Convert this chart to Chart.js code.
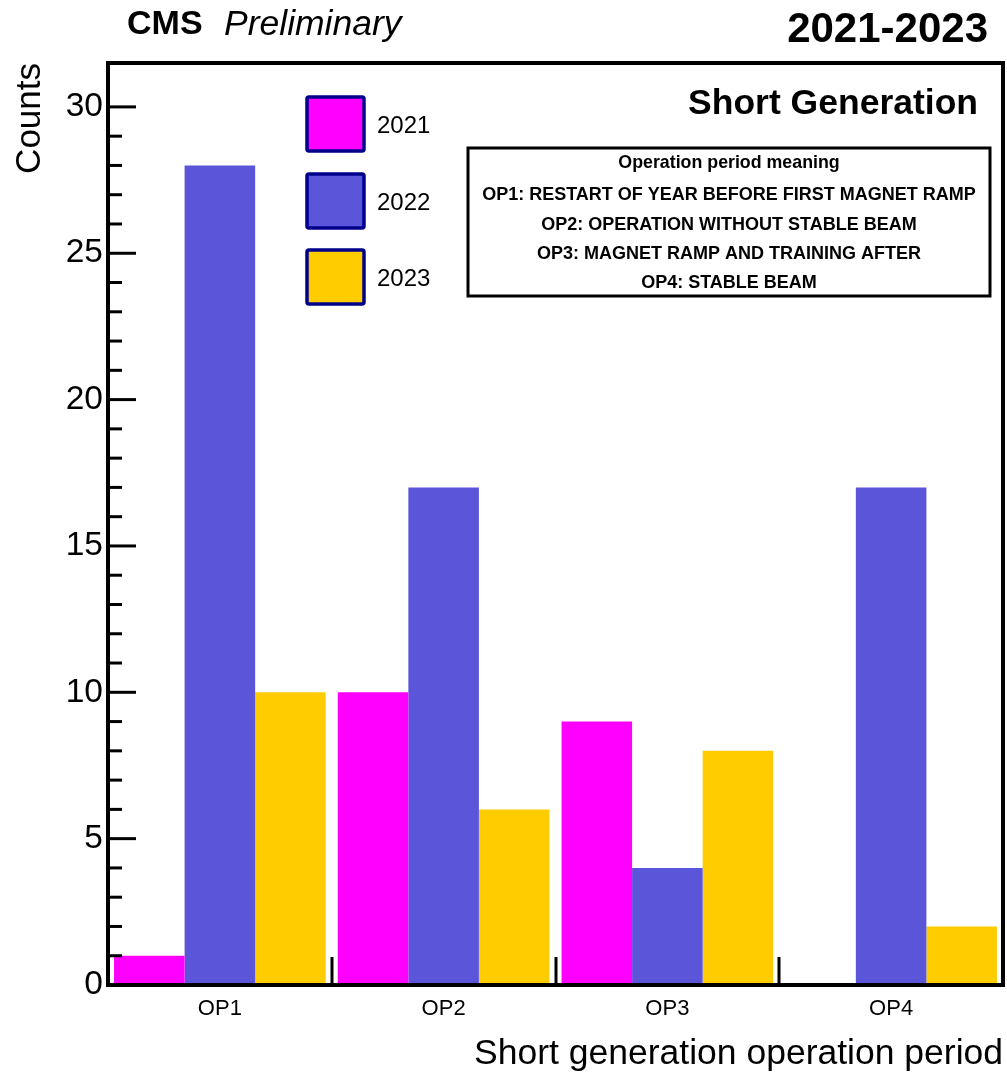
<!DOCTYPE html>
<html>
<head>
<meta charset="utf-8">
<script src="https://cdn.jsdelivr.net/npm/chart.js@4.4.1/dist/chart.umd.min.js"></script>
<style>
  html, body { margin: 0; padding: 0; background: #fff; }
  #wrap { width: 1007px; height: 1074px; }
</style>
</head>
<body>
<div id="wrap"><canvas id="chart" width="1007" height="1074"></canvas></div>
<script>
// ---------------- data ----------------
const periods = ["OP1", "OP2", "OP3", "OP4"];
const years = ["2021", "2022", "2023"];
const counts2021 = [1, 10, 9, 0];
const counts2022 = [28, 17, 4, 17];
const counts2023 = [10, 6, 8, 2];
const yearColors = ["#ff00ff", "#5b56d9", "#ffcc00"];

const noteTitle = "Operation period meaning";
const noteLines = [
    "OP1: RESTART OF YEAR BEFORE FIRST MAGNET RAMP",
    "OP2: OPERATION WITHOUT STABLE BEAM",
    "OP3: MAGNET RAMP AND TRAINING AFTER",
    "OP4: STABLE BEAM"
];

const FONT = "'Liberation Sans', Arial, Helvetica, sans-serif";

// ======================================
// FRAME, TICKS, LEGEND, LABELS
// ======================================

function strokeLine(ctx, x1, y1, x2, y2){
    ctx.beginPath();
    ctx.moveTo(x1, y1);
    ctx.lineTo(x2, y2);
    ctx.stroke();
}

const decorations = {

    id: "decorations",

    afterDatasetsDraw(chart){

        const {ctx, chartArea: a, scales: {x, y}} = chart;

        ctx.save();
        ctx.strokeStyle = "#000";
        ctx.lineWidth = 3;

        // y ticks, major every 5, minor every 1
        y.ticks.forEach(t => {
            if (!Number.isInteger(t.value) || t.value === 0) return;
            const py = y.getPixelForValue(t.value);
            const len = t.value % 5 === 0 ? 28 : 14;
            strokeLine(ctx, a.left, py, a.left + len, py);
        });

        // x ticks at category boundaries
        for (let i = 0; i < periods.length - 1; i++) {
            const px = Math.round((x.getPixelForValue(i) + x.getPixelForValue(i + 1)) / 2);
            strokeLine(ctx, px, a.bottom, px, a.bottom - 28);
        }

        ctx.lineWidth = 4;
        ctx.strokeRect(a.left, a.top, a.right - a.left, a.bottom - a.top);

        // legend
        const legendTops = [97, 174, 250];
        chart.data.datasets.forEach((ds, i) => {
            const top = legendTops[i];
            ctx.fillStyle = ds.backgroundColor;
            ctx.strokeStyle = "#00008b";
            ctx.lineWidth = 3.5;
            ctx.beginPath();
            ctx.roundRect(307, top, 57, 54, 2);
            ctx.fill();
            ctx.stroke();
            ctx.fillStyle = "#000";
            ctx.font = "24px " + FONT;
            ctx.textAlign = "left";
            ctx.textBaseline = "middle";
            ctx.fillText(ds.label, 377, top + 29);
        });

        // header texts
        ctx.fillStyle = "#000";
        ctx.textBaseline = "middle";
        ctx.textAlign = "left";
        ctx.font = "bold 34px " + FONT;
        ctx.fillText("CMS", 127, 25);
        ctx.font = "italic 35.5px " + FONT;
        ctx.fillText("Preliminary", 224, 25);

        ctx.textAlign = "right";
        ctx.font = "bold 42px " + FONT;
        ctx.fillText("2021-2023", 988, 30);

        ctx.font = "bold 35.5px " + FONT;
        ctx.fillText("Short Generation", 978, 104);

        // info box
        ctx.lineWidth = 3;
        ctx.strokeStyle = "#000";
        ctx.strokeRect(468, 148, 522, 148);
        ctx.textAlign = "center";
        ctx.font = "bold 17.8px " + FONT;
        ctx.fillText(noteTitle, 729, 163);
        const lineY = [195, 225, 254, 283];
        ctx.font = "bold 18px " + FONT;
        noteLines.forEach((s, i) => ctx.fillText(s, 729, lineY[i]));

        ctx.restore();
    }
};

// ======================================
// CHART
// ======================================

new Chart(document.getElementById("chart"), {

    type: "bar",

    data: {
        labels: periods,
        datasets: [
            {label: years[0], data: counts2021, backgroundColor: yearColors[0]},
            {label: years[1], data: counts2022, backgroundColor: yearColors[1]},
            {label: years[2], data: counts2023, backgroundColor: yearColors[2]}
        ]
    },

    options: {
        responsive: false,
        animation: false,
        events: [],
        layout: {padding: {top: 63, right: 4, left: 0, bottom: 0}},
        datasets: {
            bar: {categoryPercentage: 0.946, barPercentage: 1, borderWidth: 0}
        },
        plugins: {
            legend: {display: false},
            tooltip: {enabled: false}
        },
        scales: {
            x: {
                grid: {display: false, drawTicks: false},
                border: {display: false},
                afterFit: s => { s.height = 89; },
                ticks: {
                    color: "#000",
                    padding: 11,
                    font: {family: FONT, size: 22}
                },
                title: {
                    display: true,
                    text: "Short generation operation period",
                    align: "end",
                    color: "#000",
                    padding: {top: 0, bottom: 0},
                    font: {family: FONT, size: 35.5, lineHeight: 1.1}
                }
            },
            y: {
                min: 0,
                max: 31.5,
                grid: {display: false, drawTicks: false},
                border: {display: false},
                afterFit: s => { s.width = 108; },
                ticks: {
                    stepSize: 1,
                    autoSkip: false,
                    color: "#000",
                    padding: 5,
                    font: {family: FONT, size: 33.5},
                    callback: v => (Number.isInteger(v) && v % 5 === 0) ? String(v) : ""
                },
                title: {
                    display: true,
                    text: "Counts",
                    align: "end",
                    color: "#000",
                    padding: {top: 9, bottom: 0},
                    font: {family: FONT, size: 35}
                }
            }
        }
    },

    plugins: [decorations]

});
</script>
</body>
</html>
